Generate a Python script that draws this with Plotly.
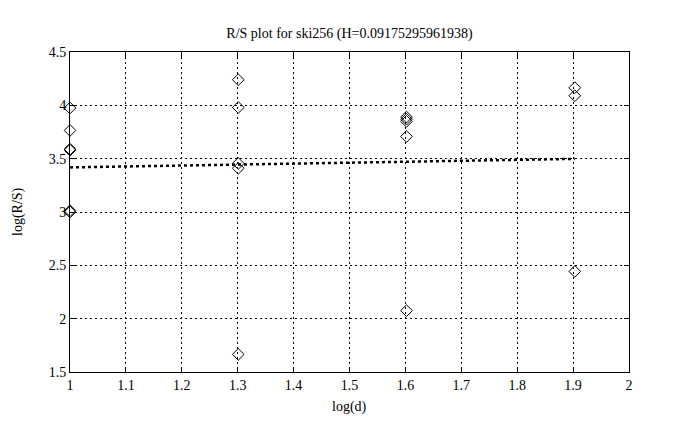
import plotly.graph_objects as go

# Data
x_vals = [1.0, 1.0, 1.0, 1.0, 1.0, 1.0,
          1.301, 1.301, 1.301, 1.301, 1.301,
          1.602, 1.602, 1.602, 1.602, 1.602,
          1.903, 1.903, 1.903]
y_vals = [3.975, 3.765, 3.59, 3.58, 3.012, 3.0,
          4.24, 3.98, 3.455, 3.41, 1.665,
          3.89, 3.87, 3.85, 3.708, 2.075,
          4.165, 4.09, 2.443]
fit_x = [1.0, 1.903]
fit_y = [3.418, 3.498]

title_text = "R/S plot for ski256 (H=0.09175295961938)"
x_label = "log(d)"
y_label = "log(R/S)"
x_ticks = [1, 1.1, 1.2, 1.3, 1.4, 1.5, 1.6, 1.7, 1.8, 1.9, 2]
x_ticklabels = ["1", "1.1", "1.2", "1.3", "1.4", "1.5", "1.6", "1.7", "1.8", "1.9", "2"]
y_ticks = [1.5, 2, 2.5, 3, 3.5, 4, 4.5]
y_ticklabels = ["1.5", "2", "2.5", "3", "3.5", "4", "4.5"]

FONT = "Liberation Serif"
W, H = 678, 430
OFF = 8  # page body margin
L, R, T, B = 70 - OFF, 629 - OFF, 52 - OFF, 372 - OFF  # plot box in figure px

fig = go.Figure()
fig.add_trace(go.Scatter(
    x=fit_x, y=fit_y, mode="lines",
    line=dict(color="black", width=2.5, dash="dot"),
    showlegend=False, hoverinfo="skip"))
fig.add_trace(go.Scatter(
    x=x_vals, y=y_vals, mode="markers",
    marker=dict(symbol="diamond-open", size=9, color="black",
                line=dict(color="black", width=1)),
    showlegend=False, cliponaxis=False))

axis_common = dict(
    showline=True, linecolor="black", linewidth=1, mirror="ticks",
    ticks="inside", ticklen=5, tickcolor="black",
    showgrid=True, gridcolor="black", gridwidth=1, griddash="2px,3px",
    zeroline=False, automargin=False,
    tickfont=dict(family=FONT, size=14, color="black"),
)

fig.update_layout(
    width=W, height=H,
    paper_bgcolor="white", plot_bgcolor="white",
    margin=dict(l=L, r=W - R, t=T, b=H - B, autoexpand=False),
    title=dict(text=title_text, x=0.5, xanchor="center", xref="paper",
               y=1 - (33 - OFF) / H, yref="container", yanchor="middle",
               automargin=False,
               font=dict(family=FONT, size=14, color="black")),
    xaxis=dict(range=[1, 2], tickvals=x_ticks, ticktext=x_ticklabels,
               **axis_common),
    yaxis=dict(range=[1.5, 4.5], tickvals=y_ticks, ticktext=y_ticklabels,
               **axis_common),
    annotations=[
        dict(text=x_label, xref="paper", yref="paper", x=0.5,
             y=-(407 - 372) / (372 - 52), xanchor="center", yanchor="middle",
             showarrow=False, font=dict(family=FONT, size=14, color="black")),
        dict(text=y_label, xref="paper", yref="paper",
             x=-(70 - 18) / (629 - 70), y=0.5, xanchor="center", yanchor="middle",
             textangle=-90, showarrow=False,
             font=dict(family=FONT, size=14, color="black")),
    ],
)

fig.write_html("out.html")
